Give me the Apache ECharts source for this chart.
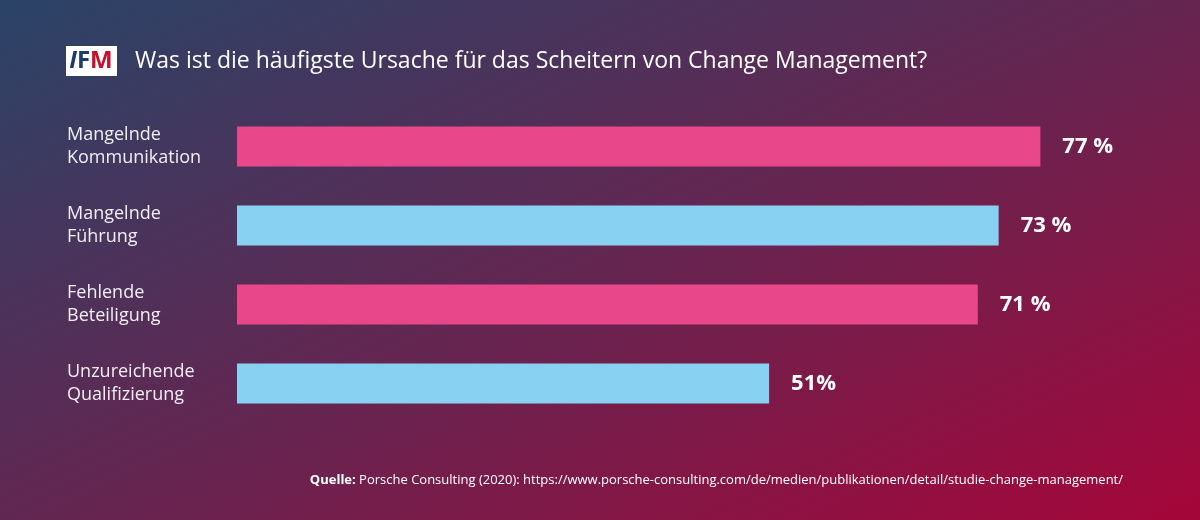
<!DOCTYPE html>
<html>
<head>
<meta charset="utf-8">
<script src="https://cdn.jsdelivr.net/npm/echarts@6/dist/echarts.min.js"></script>
<style>
  html, body { margin: 0; padding: 0; }
  #main { width: 1200px; height: 520px; }
</style>
</head>
<body>
<div id="main"></div>
<script>
// Daten
const categories = ['Mangelnde\nKommunikation', 'Mangelnde\nFührung', 'Fehlende\nBeteiligung', 'Unzureichende\nQualifizierung'];
const values = [77, 73, 71, 51];
const valueLabels = ['77 %', '73 %', '71 %', '51%'];
const barColors = ['#e8488a', '#89d1f2', '#e8488a', '#89d1f2'];

const titleText = 'Was ist die häufigste Ursache für das Scheitern von Change Management?';
const sourceLabel = 'Quelle:';
const sourceText = ' Porsche Consulting (2020): https://www.porsche-consulting.com/de/medien/publikationen/detail/studie-change-management/';

const FONT = '"Open Sans", "Noto Sans", sans-serif';

const myChart = echarts.init(document.getElementById('main'));

const barData = values.map((v, i) => ({
  value: v,
  itemStyle: { color: barColors[i] },
  label: { formatter: valueLabels[i] }
}));

myChart.setOption({
  animation: false,
  // Verlauf wie CSS "to bottom right"
  backgroundColor: new echarts.graphic.LinearGradient(0, 0, 400, 870, [
    { offset: 0, color: '#2a4367' },
    { offset: 0.5, color: '#622752' },
    { offset: 1, color: '#a3073a' }
  ], true),
  grid: { left: 237, right: 24, top: 107, bottom: 97 },
  xAxis: {
    type: 'value',
    min: 0,
    max: 90,
    show: false
  },
  yAxis: {
    type: 'category',
    data: categories,
    inverse: true,
    axisLine: { show: false },
    axisTick: { show: false },
    splitLine: { show: false },
    axisLabel: {
      align: 'left',
      margin: 170,
      color: '#f2eef4',
      fontFamily: FONT,
      fontSize: 18,
      lineHeight: 23
    }
  },
  series: [
    {
      type: 'bar',
      barWidth: 40,
      data: barData,
      label: {
        show: true,
        position: 'right',
        distance: 22,
        color: '#ffffff',
        fontFamily: FONT,
        fontWeight: 'bold',
        fontSize: 22
      }
    }
  ],
  graphic: [
    // Logo
    {
      type: 'rect',
      shape: { x: 66, y: 46, width: 51, height: 30 },
      style: { fill: '#ffffff' }
    },
    {
      type: 'text',
      x: 91,
      y: 61,
      style: {
        text: '{a|I}{b|F}{c|M}',
        align: 'center',
        verticalAlign: 'middle',
        rich: {
          a: { fill: '#1f3b6b', fontFamily: FONT, fontWeight: 'bold', fontStyle: 'italic', fontSize: 24 },
          b: { fill: '#1f3b6b', fontFamily: FONT, fontWeight: 'bold', fontSize: 24 },
          c: { fill: '#c8102e', fontFamily: FONT, fontWeight: 'bold', fontSize: 24 }
        }
      }
    },
    // Titel
    {
      type: 'text',
      x: 135,
      y: 61,
      style: {
        text: titleText,
        fill: '#ffffff',
        fontFamily: FONT,
        fontSize: 23,
        verticalAlign: 'middle'
      }
    },
    // Quelle
    {
      type: 'text',
      x: 1123,
      y: 480,
      style: {
        text: '{b|' + sourceLabel + '}{n|' + sourceText + '}',
        align: 'right',
        verticalAlign: 'middle',
        rich: {
          b: { fill: '#ffffff', fontFamily: FONT, fontWeight: 'bold', fontSize: 13 },
          n: { fill: '#ffffff', fontFamily: FONT, fontSize: 13 }
        }
      }
    }
  ]
});
</script>
</body>
</html>
